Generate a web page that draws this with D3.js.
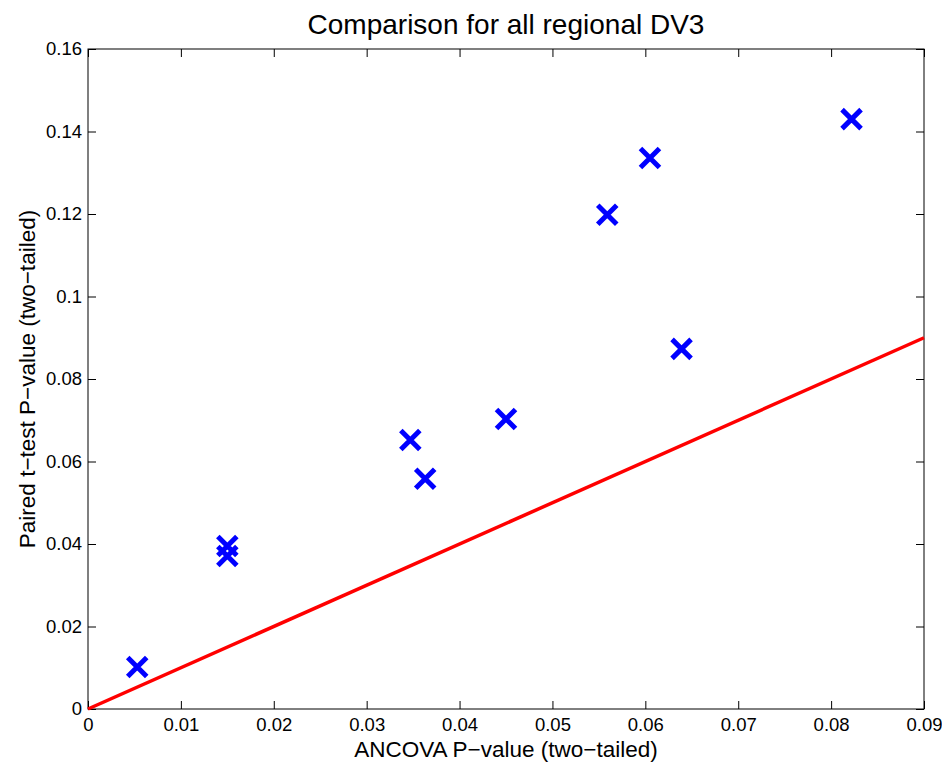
<!DOCTYPE html>
<html>
<head>
<meta charset="utf-8">
<script src="https://cdn.jsdelivr.net/npm/d3@7"></script>
<style>
  body { margin: 0; background: #fff; }
  svg { display: block; font-family: "Liberation Sans", Arial, sans-serif; }
</style>
</head>
<body>
<div id="chart"></div>
<script>
// ANCOVA p-values (x) and paired t-test p-values (y)
const ancovaP = [0.0053, 0.0150, 0.0150, 0.0347, 0.0363, 0.0450, 0.0559, 0.0605, 0.0639, 0.0822];
const pairedP = [0.0102, 0.0395, 0.0371, 0.0652, 0.0558, 0.0703, 0.1198, 0.1336, 0.0873, 0.1430];
const xTicks = [0, 0.01, 0.02, 0.03, 0.04, 0.05, 0.06, 0.07, 0.08, 0.09];
const yTicks = [0, 0.02, 0.04, 0.06, 0.08, 0.1, 0.12, 0.14, 0.16];
const refLine = [0, 0.09];

const width = 942, height = 762;
const m = { left: 88, right: 18, top: 49, bottom: 53 };

const svg = d3.select("#chart").append("svg")
  .attr("width", width)
  .attr("height", height);

const x = d3.scaleLinear().domain([0, 0.09]).range([m.left, width - m.right]);
const y = d3.scaleLinear().domain([0, 0.16]).range([height - m.bottom, m.top]);

const fmt = (d) => d === 0 ? "0" : String(+d.toFixed(2));
const tickLen = 8;

// box
svg.append("rect")
  .attr("x", x(0)).attr("y", y(0.16))
  .attr("width", x(0.09) - x(0)).attr("height", y(0) - y(0.16))
  .attr("fill", "none").attr("stroke", "#000").attr("stroke-width", 1);

// axes with inward ticks, mirrored on top/right
const xAxis = svg.append("g").attr("transform", `translate(0,${y(0)})`)
  .call(d3.axisBottom(x).tickValues(xTicks).tickFormat(fmt).tickSizeInner(-tickLen).tickSizeOuter(0).tickPadding(9));
const xTop = svg.append("g").attr("transform", `translate(0,${y(0.16)})`)
  .call(d3.axisTop(x).tickValues(xTicks).tickFormat("").tickSizeInner(-tickLen).tickSizeOuter(0));
const yAxis = svg.append("g").attr("transform", `translate(${x(0)},0)`)
  .call(d3.axisLeft(y).tickValues(yTicks).tickFormat(fmt).tickSizeInner(-tickLen).tickSizeOuter(0).tickPadding(6));
const yRight = svg.append("g").attr("transform", `translate(${x(0.09)},0)`)
  .call(d3.axisRight(y).tickValues(yTicks).tickFormat("").tickSizeInner(-tickLen).tickSizeOuter(0));

[xAxis, xTop, yAxis, yRight].forEach((g) => {
  g.select(".domain").remove();
  g.selectAll("line").attr("stroke", "#000");
  g.selectAll("text").attr("fill", "#000").style("font-size", "18.5px").style("font-family", "Liberation Sans, Arial, sans-serif");
});

// y = x reference line
svg.append("line")
  .attr("x1", x(refLine[0])).attr("y1", y(refLine[0]))
  .attr("x2", x(refLine[1])).attr("y2", y(refLine[1]))
  .attr("stroke", "#ff0000").attr("stroke-width", 3.5);

// x markers
const s = 9.5;
const pts = ancovaP.map((d, i) => [x(d), y(pairedP[i])]);
svg.append("g").selectAll("path")
  .data(pts)
  .join("path")
  .attr("d", ([cx, cy]) => `M${cx - s},${cy - s}L${cx + s},${cy + s}M${cx - s},${cy + s}L${cx + s},${cy - s}`)
  .attr("stroke", "#0000ff").attr("stroke-width", 5).attr("fill", "none");

// labels
svg.append("text")
  .attr("x", (x(0) + x(0.09)) / 2).attr("y", 34)
  .attr("text-anchor", "middle").style("font-size", "28px")
  .text("Comparison for all regional DV3");

svg.append("text")
  .attr("x", (x(0) + x(0.09)) / 2).attr("y", 757)
  .attr("text-anchor", "middle").style("font-size", "22.5px")
  .text("ANCOVA P\u2212value (two\u2212tailed)");

svg.append("text")
  .attr("transform", `translate(35,${(y(0) + y(0.16)) / 2}) rotate(-90)`)
  .attr("text-anchor", "middle").style("font-size", "22.5px")
  .text("Paired t\u2212test P\u2212value (two\u2212tailed)");
</script>
</body>
</html>
